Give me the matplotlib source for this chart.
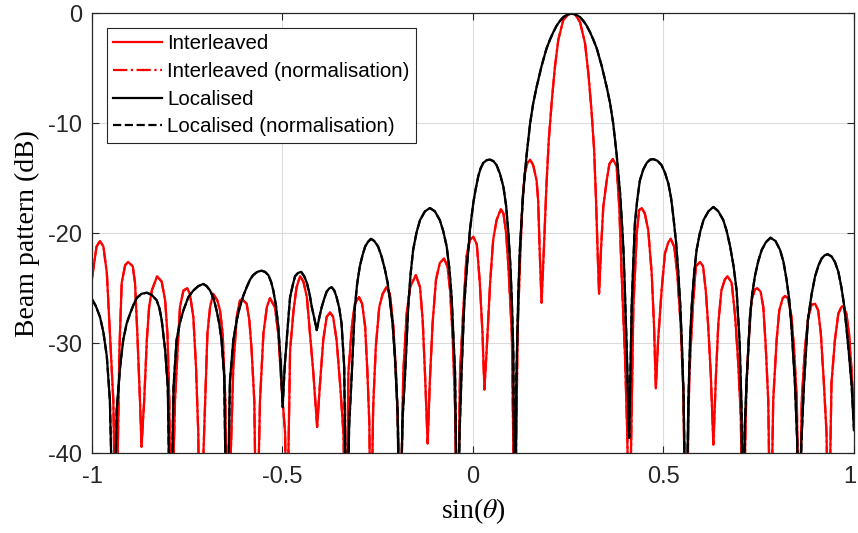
import matplotlib
matplotlib.use("Agg")
import matplotlib.pyplot as plt
from matplotlib.transforms import ScaledTranslation

# ---- data (sin(theta), dB) ----
interleaved_s = [
    -1.000, -0.988, -0.979, -0.970, -0.961, -0.953, -0.944, -0.937, -0.928, -0.922,
    -0.913, -0.905, -0.893, -0.887, -0.881, -0.874, -0.870, -0.863, -0.856, -0.850,
    -0.843, -0.829, -0.817, -0.808, -0.802, -0.797, -0.793, -0.782, -0.773, -0.769,
    -0.760, -0.750, -0.743, -0.734, -0.727, -0.721, -0.717, -0.703, -0.697, -0.690,
    -0.682, -0.671, -0.664, -0.657, -0.650, -0.644, -0.629, -0.620, -0.612, -0.606,
    -0.594, -0.587, -0.581, -0.574, -0.568, -0.559, -0.550, -0.541, -0.533, -0.520,
    -0.511, -0.503, -0.493, -0.489, -0.480, -0.471, -0.463, -0.454, -0.445, -0.436,
    -0.428, -0.419, -0.409, -0.402, -0.393, -0.384, -0.375, -0.367, -0.358, -0.349,
    -0.340, -0.333, -0.327, -0.318, -0.310, -0.299, -0.291, -0.283, -0.277, -0.272,
    -0.268, -0.262, -0.255, -0.246, -0.237, -0.227, -0.218, -0.209, -0.202, -0.196,
    -0.192, -0.183, -0.174, -0.165, -0.150, -0.139, -0.132, -0.126, -0.119, -0.113,
    -0.106, -0.097, -0.087, -0.076, -0.067, -0.060, -0.053, -0.047, -0.041, -0.034,
    -0.025, -0.017, -0.008, 0.001, 0.010, 0.018, 0.025, 0.030, 0.036, 0.045,
    0.053, 0.062, 0.073, 0.080, 0.087, 0.093, 0.102, 0.110, 0.117, 0.123,
    0.130, 0.136, 0.143, 0.150, 0.158, 0.167, 0.171, 0.175, 0.180, 0.186,
    0.193, 0.199, 0.207, 0.215, 0.224, 0.237, 0.250, 0.259, 0.268, 0.281,
    0.294, 0.303, 0.311, 0.318, 0.323, 0.327, 0.331, 0.336, 0.342, 0.351,
    0.358, 0.367, 0.377, 0.384, 0.390, 0.399, 0.405, 0.410, 0.421, 0.430,
    0.436, 0.443, 0.451, 0.460, 0.469, 0.475, 0.480, 0.486, 0.495, 0.504,
    0.513, 0.519, 0.528, 0.536, 0.545, 0.552, 0.559, 0.568, 0.577, 0.585,
    0.596, 0.604, 0.611, 0.617, 0.624, 0.631, 0.638, 0.644, 0.652, 0.661,
    0.668, 0.679, 0.688, 0.696, 0.703, 0.708, 0.718, 0.725, 0.731, 0.740,
    0.746, 0.755, 0.762, 0.768, 0.775, 0.781, 0.788, 0.797, 0.804, 0.813,
    0.819, 0.827, 0.836, 0.843, 0.850, 0.856, 0.863, 0.871, 0.880, 0.889,
    0.898, 0.906, 0.913, 0.921, 0.928, 0.933, 0.941, 0.950, 0.959, 0.967,
    0.971, 0.980, 0.987, 0.993, 1.000,
]
interleaved_db = [
    -24.1, -21.2, -20.7, -21.2, -23.6, -29.1, -35.2, -50.0, -30.6, -24.5,
    -22.9, -22.6, -23.0, -24.5, -29.1, -35.2, -39.4, -35.2, -29.7, -26.7,
    -25.2, -23.9, -24.4, -26.1, -29.1, -35.2, -50.0, -35.2, -29.1, -26.7,
    -25.2, -25.0, -25.5, -27.6, -32.1, -38.2, -50.0, -35.2, -29.1, -26.7,
    -25.5, -26.1, -27.0, -29.1, -35.2, -50.0, -32.1, -27.6, -26.1, -26.0,
    -26.4, -27.9, -30.6, -35.2, -50.0, -35.2, -29.1, -26.7, -25.9, -26.7,
    -29.1, -33.6, -38.2, -50.0, -30.6, -27.0, -24.9, -23.9, -24.4, -25.8,
    -29.1, -32.7, -37.6, -33.9, -29.7, -27.6, -27.2, -27.6, -29.7, -33.6,
    -38.2, -50.0, -32.7, -28.5, -26.4, -25.8, -26.4, -28.5, -32.7, -37.3,
    -50.0, -35.8, -30.3, -26.7, -25.5, -24.9, -25.5, -28.5, -32.7, -38.2,
    -50.0, -32.7, -27.3, -24.9, -23.8, -24.9, -27.9, -32.7, -39.1, -33.3,
    -28.2, -24.2, -22.7, -22.3, -23.0, -25.2, -29.7, -35.8, -50.0, -32.7,
    -26.7, -22.1, -20.6, -20.3, -21.0, -24.5, -29.1, -34.2, -30.6, -24.5,
    -20.6, -18.8, -17.8, -18.2, -20.0, -23.0, -29.1, -50.0, -29.1, -23.0,
    -17.0, -14.5, -13.6, -13.3, -13.8, -15.2, -17.0, -21.5, -26.3, -21.5,
    -15.5, -11.5, -7.9, -4.9, -2.4, -0.6, -0.1, 0.0, -0.1, -0.8,
    -2.7, -5.5, -8.8, -12.4, -17.0, -21.5, -25.5, -21.5, -17.6, -15.2,
    -13.7, -13.25, -13.9, -17.6, -23.6, -31.2, -38.2, -50.0, -26.7, -20.0,
    -17.9, -17.7, -18.2, -19.7, -23.6, -28.2, -34.1, -29.7, -25.2, -21.8,
    -20.8, -20.5, -21.2, -23.6, -28.2, -34.2, -50.0, -32.7, -26.7, -23.0,
    -22.6, -23.0, -25.2, -28.2, -32.7, -39.2, -32.7, -28.2, -25.2, -24.2,
    -23.9, -24.5, -27.5, -31.7, -36.7, -50.0, -33.6, -29.1, -26.1, -25.1,
    -25.0, -25.3, -26.7, -30.0, -35.2, -50.0, -35.2, -29.7, -27.0, -25.9,
    -25.7, -25.9, -27.6, -30.6, -35.2, -50.0, -35.2, -30.6, -27.6, -26.5,
    -26.4, -27.0, -29.1, -33.6, -38.2, -50.0, -33.6, -29.7, -27.3, -26.7,
    -26.6, -27.3, -29.1, -32.1, -36.4,
]

localised_s = [
    -1.000, -0.990, -0.979, -0.970, -0.961, -0.953, -0.943,
    -0.935, -0.926, -0.918, -0.909, -0.900, -0.891, -0.883, -0.870, -0.856, -0.843,
    -0.830, -0.823, -0.817, -0.808, -0.801, -0.794,
    -0.786, -0.778, -0.769, -0.760, -0.747, -0.734, -0.721, -0.708, -0.699, -0.690,
    -0.681, -0.673, -0.666, -0.660, -0.653, -0.646,
    -0.638, -0.629, -0.620, -0.612, -0.603, -0.594, -0.585, -0.577, -0.566, -0.555,
    -0.546, -0.537, -0.530, -0.524, -0.517, -0.511, -0.505, -0.4995,
    -0.494, -0.489, -0.484, -0.480, -0.473, -0.467, -0.459, -0.451, -0.443, -0.436,
    -0.429, -0.423, -0.416, -0.410,
    -0.403, -0.397, -0.390, -0.384, -0.377, -0.371, -0.364, -0.358, -0.351, -0.345,
    -0.338, -0.332,
    -0.325, -0.318, -0.310, -0.304, -0.297, -0.290, -0.283, -0.276, -0.268, -0.259,
    -0.249, -0.240, -0.231, -0.224, -0.218, -0.211, -0.205, -0.198, -0.192,
    -0.185, -0.178, -0.170, -0.164, -0.157, -0.148, -0.139, -0.126, -0.113, -0.100,
    -0.087, -0.078, -0.069, -0.062, -0.056, -0.047, -0.041,
    -0.035, -0.030, -0.023, -0.017, -0.008, 0.001, 0.007, 0.014, 0.020, 0.027,
    0.036, 0.045, 0.054, 0.062, 0.071, 0.080, 0.087, 0.093, 0.098, 0.102,
    0.106, 0.110,
    0.114, 0.119, 0.123, 0.128, 0.132, 0.141, 0.150, 0.158, 0.167, 0.180,
    0.193, 0.202, 0.211, 0.220, 0.228, 0.237, 0.246, 0.259,
    0.272, 0.281, 0.290, 0.298, 0.307, 0.316, 0.325, 0.338, 0.351, 0.360,
    0.368, 0.377, 0.386, 0.390, 0.395, 0.399, 0.404, 0.410,
    0.4165, 0.421, 0.425, 0.431, 0.438, 0.447, 0.456, 0.465, 0.473, 0.484,
    0.495, 0.504, 0.513, 0.520, 0.526, 0.533, 0.539, 0.544, 0.548, 0.553, 0.559,
    0.565, 0.570, 0.574, 0.580, 0.587, 0.596, 0.605, 0.618, 0.631, 0.644,
    0.657, 0.666, 0.675, 0.684, 0.692, 0.700, 0.705, 0.709,
    0.713, 0.718, 0.727, 0.733, 0.740, 0.749, 0.758, 0.769, 0.781, 0.794,
    0.806, 0.815, 0.823, 0.830, 0.836, 0.845, 0.851, 0.856,
    0.862, 0.869, 0.879, 0.889, 0.898, 0.907, 0.915, 0.923, 0.931, 0.941,
    0.950, 0.959, 0.967, 0.974, 0.980, 0.987, 0.994, 1.000,
]
localised_db = [
    -26.0, -26.6, -27.6, -29.0, -31.2, -35.2, -50.0,
    -36.0, -32.1, -29.7, -28.2, -27.3, -26.5, -25.9, -25.5, -25.4, -25.6,
    -26.1, -26.8, -27.9, -30.6, -34.0, -50.0,
    -34.0, -29.7, -28.1, -27.0, -25.8, -25.2, -24.8, -24.6, -24.8, -25.2,
    -25.9, -27.0, -28.2, -29.7, -33.0, -50.0,
    -33.5, -29.7, -27.9, -26.7, -25.7, -24.9, -24.2, -23.8, -23.5, -23.4,
    -23.5, -23.8, -24.4, -25.2, -26.6, -28.5, -31.5, -35.8,
    -32.0, -29.7, -27.5, -25.8, -24.7, -23.9, -23.6, -23.5, -23.9, -24.5,
    -25.5, -26.7, -27.8, -28.8,
    -27.6, -26.7, -25.9, -25.3, -25.0, -24.9, -25.2, -25.8, -26.8, -28.2,
    -32.1, -50.0,
    -37.5, -32.7, -26.7, -24.6, -23.0, -22.0, -21.2, -20.8, -20.5, -20.7,
    -21.2, -22.1, -23.3, -24.5, -26.1, -28.2, -31.2, -36.0, -50.0,
    -37.0, -32.7, -26.7, -23.8, -21.5, -19.9, -18.8, -18.0, -17.7, -18.0,
    -18.8, -19.8, -21.2, -23.2, -25.8, -32.7, -50.0,
    -38.0, -32.7, -26.5, -23.6, -19.7, -17.2, -16.0, -14.8, -14.1, -13.6,
    -13.35, -13.3, -13.45, -13.8, -14.6, -15.8, -17.5, -20.0, -22.8, -26.1,
    -31.0, -50.0,
    -33.0, -25.5, -21.5, -18.5, -16.3, -12.8, -10.0, -8.2, -6.7, -4.8,
    -3.2, -2.4, -1.7, -1.1, -0.7, -0.35, -0.15, 0.0,
    -0.15, -0.35, -0.7, -1.1, -1.7, -2.4, -3.2, -4.8, -6.7, -8.2,
    -10.0, -12.8, -16.3, -18.5, -21.5, -25.5, -31.0, -38.6,
    -26.7, -22.5, -19.1, -17.0, -15.2, -14.2, -13.6, -13.3, -13.25, -13.4,
    -13.8, -14.5, -15.5, -16.8, -18.5, -20.8, -23.6, -26.5, -29.7, -35.0, -50.0,
    -35.8, -29.5, -26.7, -23.8, -21.5, -19.9, -18.8, -18.0, -17.6, -18.0,
    -18.8, -19.8, -21.2, -23.0, -25.2, -30.0, -36.0, -50.0,
    -38.0, -33.6, -27.6, -25.5, -23.9, -22.5, -21.5, -20.8, -20.4, -20.7,
    -21.5, -22.6, -24.2, -26.0, -28.5, -33.6, -39.0, -50.0,
    -39.0, -33.6, -27.9, -25.5, -23.9, -22.9, -22.3, -22.0, -21.9, -22.1,
    -22.6, -23.5, -24.9, -26.5, -28.5, -31.0, -33.9, -37.9,
]

# normalised versions coincide with the un-normalised curves in the figure
interleaved_norm_db = list(interleaved_db)
localised_norm_db = list(localised_db)

series_labels = ["Interleaved", "Interleaved (normalisation)",
                 "Localised", "Localised (normalisation)"]
x_ticks = [-1, -0.5, 0, 0.5, 1]
x_tick_labels = ["-1", "-0.5", "0", "0.5", "1"]
y_ticks = [-40, -30, -20, -10, 0]
y_tick_labels = ["-40", "-30", "-20", "-10", "0"]

assert len(interleaved_s) == len(interleaved_db)
assert len(localised_s) == len(localised_db)

plt.rcParams["axes.unicode_minus"] = False
plt.rcParams["mathtext.fontset"] = "stix"

fig = plt.figure(figsize=(8.58, 5.33), dpi=100)
ax = fig.add_axes([0.1072, 0.1495, 0.8881, 0.8255])

axcol = "#262626"
lw = 1.6
ax.plot(interleaved_s, interleaved_db, color="#ff0000", lw=lw, ls="-", label=series_labels[0])
ax.plot(interleaved_s, interleaved_norm_db, color="#ff0000", lw=lw, ls="-.", label=series_labels[1])
ax.plot(localised_s, localised_db, color="#000000", lw=lw, ls="-", label=series_labels[2])
ax.plot(localised_s, localised_norm_db, color="#000000", lw=lw, ls="--", label=series_labels[3])

ax.set_xlim(-1, 1)
ax.set_ylim(-40, 0)
ax.set_xticks(x_ticks)
ax.set_xticklabels(x_tick_labels)
ax.set_yticks(y_ticks)
ax.set_yticklabels(y_tick_labels)

ax.grid(True, color="#dcdcdc", lw=0.8)
ax.set_axisbelow(True)
for sp in ax.spines.values():
    sp.set_color(axcol)
    sp.set_linewidth(0.9)
ax.tick_params(direction="in", length=5, width=0.8, color=axcol,
               top=True, right=True, labelsize=17, labelcolor=axcol)
ax.tick_params(axis="x", pad=9)
ax.tick_params(axis="y", pad=7)
for lab in ax.get_xticklabels() + ax.get_yticklabels():
    lab.set_family("Liberation Sans")
# keep the last x tick label inside the canvas (as in the reference)
last = ax.get_xticklabels()[-1]
last.set_transform(last.get_transform() + ScaledTranslation(-4 / 100, 0, fig.dpi_scale_trans))

ax.set_xlabel(r"sin($\theta$)", fontsize=20, family="Liberation Serif", labelpad=6)
ax.set_ylabel("Beam pattern (dB)", fontsize=20, family="Liberation Serif", labelpad=6)

leg = ax.legend(loc="upper left", bbox_to_anchor=(0.0193, 0.966), borderaxespad=0,
                prop={"family": "Liberation Sans", "size": 14.8},
                handlelength=2.4, handletextpad=0.25, borderpad=0.3,
                labelspacing=0.42, frameon=True, fancybox=False, framealpha=1)
leg.get_frame().set_edgecolor(axcol)
leg.get_frame().set_linewidth(0.8)

fig.savefig("out.png", dpi=100)
